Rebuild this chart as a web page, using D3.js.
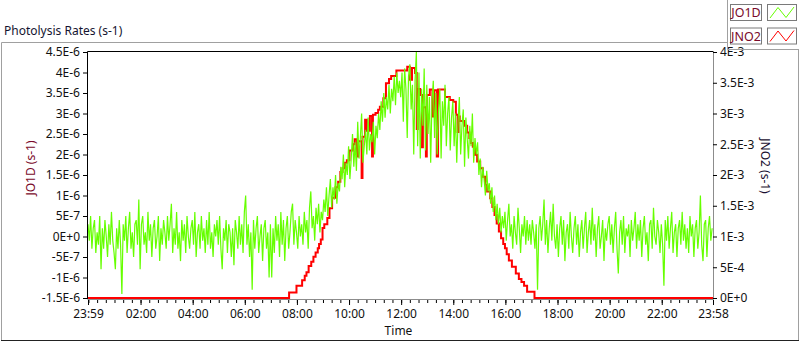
<!DOCTYPE html>
<html>
<head>
<meta charset="utf-8">
<script src="https://cdn.jsdelivr.net/npm/d3@7/dist/d3.min.js"></script>
<style>
  html, body { margin: 0; padding: 0; background: #fff; }
  svg { display: block; font-family: "Segoe UI", "Noto Sans", sans-serif; }
</style>
</head>
<body>
<svg id="chart" width="800" height="342"></svg>
<script>
// ---- data ----
const chartTitle = 'Photolysis Rates (s-1)';
const seriesNames = ['JO1D', 'JNO2'];
const xStartClock = '23:59';
const xEndClock = '23:58';
const xTickLabels = ['23:59', '02:00', '04:00', '06:00', '08:00', '10:00', '12:00',
  '14:00', '16:00', '18:00', '20:00', '22:00', '23:58'];

// left axis (JO1D, s-1)
const leftTickValues = [-1.5e-6, -1e-6, -5e-7, 0, 5e-7, 1e-6, 1.5e-6, 2e-6, 2.5e-6, 3e-6, 3.5e-6, 4e-6, 4.5e-6];
const leftTickLabels = ['-1.5E-6', '-1E-6', '-5E-7', '0E+0', '5E-7', '1E-6', '1.5E-6', '2E-6',
  '2.5E-6', '3E-6', '3.5E-6', '4E-6', '4.5E-6'];
// right axis (JNO2, s-1)
const rightTickValues = [0, 5e-4, 1e-3, 1.5e-3, 2e-3, 2.5e-3, 3e-3, 3.5e-3, 4e-3];
const rightTickLabels = ['0E+0', '5E-4', '1E-3', '1.5E-3', '2E-3', '2.5E-3', '3E-3', '3.5E-3', '4E-3'];

// JO1D, one sample every 3 minutes from 23:59 (20 per row = 1 hour), units of 1E-7 s-1
const jo1dStepMinutes = 3;
const jo1dValues = [
  3, -1, 5, -3, 2, 4, -4, 1, -2, 5, -8, 2, -3, 4, 0, -5, 3, -2, 6, -1,
  -4, -8, 2, -3, 4, -2, -14, 3, -1, 5, -4, 2, 6, -3, 1, -5, 3, 4, -2, 9,
  -8, 3, 5, -2, 1, -4, 6, -1, 3, -5, 2, 4, -3, 0, 5, -6, 2, -2, 4, 1,
  -3, 5, -1, 3, 8, -4, 2, -2, 6, -3, 1, -6, 4, -1, 3, -4, 5, 0, -3, 2,
  4, -2, 6, -5, 1, 3, -3, 5, -1, 2, -4, 4, -2, 6, -3, 1, -5, 3, 0, 4,
  -2, 5, -3, -8, 2, -1, 4, -4, 3, 1, -5, 2, -7, 4, 1, -3, 5, -2, 3, -4,
  6, 10, -2, 3, -5, 1, -13, 4, -3, 2, 5, -4, 0, 3, -6, 2, 4, -3, 1, -10,
  3, -10, 2, -4, 5, -1, 3, -5, 6, -2, 4, -6, 2, 5, -3, 1, 6, 8, -2, 4,
  1, -3, 5, 0, 3, -2, 6, 1, 4, -3, 7, 11, 2, 5, -1, 7, 3, 8, 1, 6,
  4, 9, 6, 12, 5, 10, 14, 7, 12, 9, 15, 8, 13, 11, 17, 14, 20, 12, 18, 15,
  22, 14, 19, 25, 17, 23, 16, 28, 19, 24, 30, 18, 22, 26, 20, 29, 21, 25, 23, 28,
  20, 27, 24, 30, 26, 33, 28, 35, 29, 34, 31, 37, 30, 36, 33, 39, 32, 40, 35, 38,
  34, 40, 28, 41, 36, 24, 39, 42, 31, 37, 20, 38, 45, 22, 40, 19, 36, 27, 41, 21,
  37, 25, 34, 18, 33, 38, 24, 35, 20, 31, 36, 19, 33, 27, 37, 22, 30, 34, 21, 29,
  33, 22, 30, 18, 28, 34, 20, 27, 31, 17, 29, 24, 19, 27, 22, 30, 18, 24, 20, 23,
  15, 19, 12, 17, 14, 10, 16, 11, 13, 8, 12, 6, 10, 4, 8, 3, 7, 1, 5, 2,
  6, -1, 4, 8, 0, 3, -3, 5, 1, -2, 7, 2, -4, 3, 0, 5, -2, 4, -1, 3,
  -2, 4, 1, -3, 3, -13, 2, 5, -1, 3, 9, -2, 4, -4, 2, 6, -1, 8, 0, -3,
  3, -5, 2, 5, -2, 4, -6, 1, 3, -3, 6, 0, -4, 2, 5, -2, 3, -5, 1, 4,
  -3, 2, 6, -4, 1, 4, -2, 7, -1, 3, -5, 2, 5, -3, 0, 4, -6, 2, -1, 3,
  5, -2, 3, -4, 2, 6, -3, -9, 1, 4, -2, 5, -4, 2, 0, 3, -5, 4, -1, 2,
  6, -3, 3, -1, 4, -5, 2, 5, -2, 1, -6, 3, 4, -3, 7, 0, -2, 4, 1, -4,
  3, -2, -12, 4, -1, 5, -3, 2, 6, -4, 1, 3, -5, 2, 4, -2, 6, -1, 3, -3,
  2, -4, 5, 0, 3, -5, 2, 4, -3, 1, 10, -2, -6, 3, 4, -5, 2, 5, -1, 2
];

// JNO2 steps, values in units of 1E-3 s-1
const jno2Times = ['23:59', '07:42', '07:59', '08:12', '08:18', '08:22', '08:27', '08:33', '08:38',
  '08:43', '08:48', '08:51', '08:55', '08:59', '09:03', '09:10', '09:15', '09:21', '09:29', '09:35',
  '09:40', '09:45', '09:51', '09:55', '10:01', '10:09', '10:13', '10:18', '10:21', '10:29', '10:31',
  '10:37', '10:41', '10:48', '10:53', '10:55', '11:01', '11:07', '11:11', '11:19', '11:25', '11:32',
  '11:37', '11:49', '12:14', '12:20', '12:25', '12:32', '12:36', '12:38', '12:44', '12:48', '12:50',
  '12:57', '12:59', '13:06', '13:12', '13:16', '13:22', '13:25', '13:41', '13:52', '14:00', '14:06',
  '14:10', '14:12', '14:15', '14:25', '14:32', '14:37', '14:41', '14:45', '14:50', '14:55', '15:02',
  '15:08', '15:13', '15:18', '15:25', '15:30', '15:35', '15:40', '15:45', '15:50', '15:55', '15:59',
  '16:03', '16:08', '16:15', '16:24', '16:31', '16:37', '16:43', '16:50', '17:07', '23:58'];
const jno2Values = [0, 0.09, 0.20, 0.29, 0.36, 0.42, 0.52, 0.59, 0.67,
  0.74, 0.81, 0.88, 0.95, 1.14, 1.20, 1.30, 1.46, 1.63, 1.80, 1.89,
  2.05, 2.11, 2.20, 2.24, 2.40, 2.50, 2.58, 2.30, 2.55, 1.95, 2.62,
  2.90, 2.72, 2.96, 2.30, 2.98, 3.01, 3.06, 3.11, 3.25, 3.49, 3.56,
  3.61, 3.70, 3.76, 3.55, 3.74, 3.66, 2.75, 3.40, 3.30, 2.45, 3.10,
  2.30, 3.30, 3.39, 2.95, 3.38, 2.30, 3.39, 3.27, 3.22, 3.19, 2.98,
  2.70, 2.95, 2.88, 2.80, 2.69, 2.60, 2.52, 2.46, 2.33, 2.22, 2.11,
  1.97, 1.84, 1.73, 1.62, 1.48, 1.35, 1.21, 1.08, 0.97, 0.88, 0.81,
  0.71, 0.61, 0.51, 0.40, 0.31, 0.26, 0.20, 0.10, 0, 0];

// ---- helpers ----
// 23:59 belongs to the first day, everything else to the next one
function parseClock(s) {
  const [h, m] = s.split(':').map(Number);
  return new Date(2000, 0, (h * 60 + m === 1439) ? 1 : 2, h, m);
}

const tStart = parseClock(xStartClock);
const tEnd = parseClock(xEndClock);

const jo1d = jo1dValues.map((v, i) => ({
  t: new Date(tStart.getTime() + i * jo1dStepMinutes * 60000),
  v: v * 1e-7
}));
const jno2 = jno2Times.map((s, i) => ({ t: parseClock(s), v: jno2Values[i] * 1e-3 }));

// ---- layout ----
const plot = { left: 88, right: 713, top: 52, bottom: 298 };
const textColor = '#111';
const labelColor = '#7a0a2a';

const svg = d3.select('#chart');

const x = d3.scaleTime().domain([tStart, tEnd]).range([plot.left, plot.right]);
const yLeft = d3.scaleLinear().domain([-1.5e-6, 4.5e-6]).range([plot.bottom, plot.top]);
const yRight = d3.scaleLinear().domain([0, 4e-3]).range([plot.bottom, plot.top]);

// outer frame
svg.append('path')
  .attr('d', 'M727,42.5 H1.5 V340.5 H798.5 V50')
  .attr('fill', 'none')
  .attr('stroke', '#a0a0a0');
svg.append('line')
  .attr('x1', 1).attr('x2', 799)
  .attr('y1', 340.5).attr('y2', 340.5)
  .attr('stroke', '#222');

// title
svg.append('text')
  .attr('x', 4)
  .attr('y', 35)
  .style('font-size', '12px')
  .style('fill', '#141430')
  .text(chartTitle);

// clip for the plot area
svg.append('defs').append('clipPath')
  .attr('id', 'plot-clip')
  .append('rect')
  .attr('x', plot.left).attr('y', plot.top - 1)
  .attr('width', plot.right - plot.left).attr('height', plot.bottom - plot.top + 2);

const lines = svg.append('g').attr('clip-path', 'url(#plot-clip)');

// JNO2 - red stepped trace (drawn first, the green noise sits on top)
lines.append('path')
  .datum(jno2)
  .attr('fill', 'none')
  .attr('stroke', '#ff0000')
  .attr('stroke-width', 2)
  .attr('d', d3.line().curve(d3.curveStepAfter).x(d => x(d.t)).y(d => yRight(d.v)));

// JO1D - green noisy trace
lines.append('path')
  .datum(jo1d)
  .attr('fill', 'none')
  .attr('stroke', '#66ff00')
  .attr('stroke-width', 1.2)
  .attr('d', d3.line().x(d => x(d.t)).y(d => yLeft(d.v)));

// plot border: black top/left, grey right/bottom
svg.append('path')
  .attr('d', `M${plot.left - 0.5},${plot.bottom + 1} V${plot.top - 0.5} H${plot.right + 0.5}`)
  .attr('fill', 'none').attr('stroke', '#000');
svg.append('path')
  .attr('d', `M${plot.right + 0.5},${plot.top - 0.5} V${plot.bottom + 1.5} H${plot.left - 0.5}`)
  .attr('fill', 'none').attr('stroke', '#8c8c8c');

// left axis
const leftAxis = svg.append('g')
  .attr('transform', `translate(${plot.left - 1},0)`)
  .call(d3.axisLeft(yLeft)
    .tickValues(leftTickValues)
    .tickFormat((d, i) => leftTickLabels[i])
    .tickSize(4)
    .tickPadding(3));
leftAxis.select('.domain').remove();

// right axis
const rightAxis = svg.append('g')
  .attr('transform', `translate(${plot.right},0)`)
  .call(d3.axisRight(yRight)
    .tickValues(rightTickValues)
    .tickFormat((d, i) => rightTickLabels[i])
    .tickSize(4)
    .tickPadding(3));
rightAxis.select('.domain').remove();

// bottom axis: minor ticks every 20 minutes, labelled ticks
const minorTicks = d3.timeMinute.every(20).range(tStart, tEnd).concat([tStart, tEnd]);
const bottomMinor = svg.append('g')
  .attr('transform', `translate(0,${plot.bottom + 2})`)
  .call(d3.axisBottom(x).tickValues(minorTicks).tickSize(3).tickFormat(''));
bottomMinor.select('.domain').remove();

const bottomAxis = svg.append('g')
  .attr('transform', `translate(0,${plot.bottom + 2})`)
  .call(d3.axisBottom(x)
    .tickValues(xTickLabels.map(parseClock))
    .tickFormat((d, i) => xTickLabels[i])
    .tickSize(5)
    .tickPadding(4));
bottomAxis.select('.domain').remove();

svg.selectAll('.tick text')
  .style('font-size', '12px')
  .style('font-family', '"Segoe UI", "Noto Sans", sans-serif')
  .style('fill', textColor);
svg.selectAll('.tick line').attr('stroke', '#000');

// axis titles
svg.append('text')
  .attr('x', (plot.left + plot.right) / 2 - 2)
  .attr('y', 335)
  .attr('text-anchor', 'middle')
  .style('font-size', '12px')
  .style('fill', textColor)
  .text('Time');

svg.append('text')
  .attr('transform', 'translate(35,168) rotate(-90)')
  .attr('text-anchor', 'middle')
  .style('font-size', '12px')
  .style('fill', labelColor)
  .text(`${seriesNames[0]} (s-1)`);

svg.append('text')
  .attr('transform', 'translate(761,166) rotate(90)')
  .attr('text-anchor', 'middle')
  .style('font-size', '12px')
  .style('fill', '#1a1030')
  .text(`${seriesNames[1]} (s-1)`);

// legend
const legend = svg.append('g');
legend.append('path')
  .attr('d', 'M727.5,0 V49.5 H799')
  .attr('fill', 'none')
  .attr('stroke', '#a0a0a0');

const legendColors = ['#66ff00', '#ff0000'];
seriesNames.forEach((name, i) => {
  const y0 = 4 + i * 23.5;
  legend.append('rect')
    .attr('x', 730.5).attr('y', y0 + 0.5)
    .attr('width', 31).attr('height', 16)
    .attr('fill', '#fff').attr('stroke', '#7a7a7a');
  legend.append('text')
    .attr('x', 746).attr('y', y0 + 13)
    .attr('text-anchor', 'middle')
    .style('font-size', '12.5px')
    .style('fill', labelColor)
    .text(name);
  legend.append('rect')
    .attr('x', 767.5).attr('y', y0 + 0.5)
    .attr('width', 29).attr('height', 16)
    .attr('fill', '#fff').attr('stroke', '#7a7a7a');
  legend.append('path')
    .attr('d', `M770,${y0 + 14} L778,${y0 + 3.5} L786,${y0 + 13.5} L794,${y0 + 3}`)
    .attr('fill', 'none')
    .attr('stroke', legendColors[i])
    .attr('stroke-width', 1);
});
</script>
</body>
</html>
